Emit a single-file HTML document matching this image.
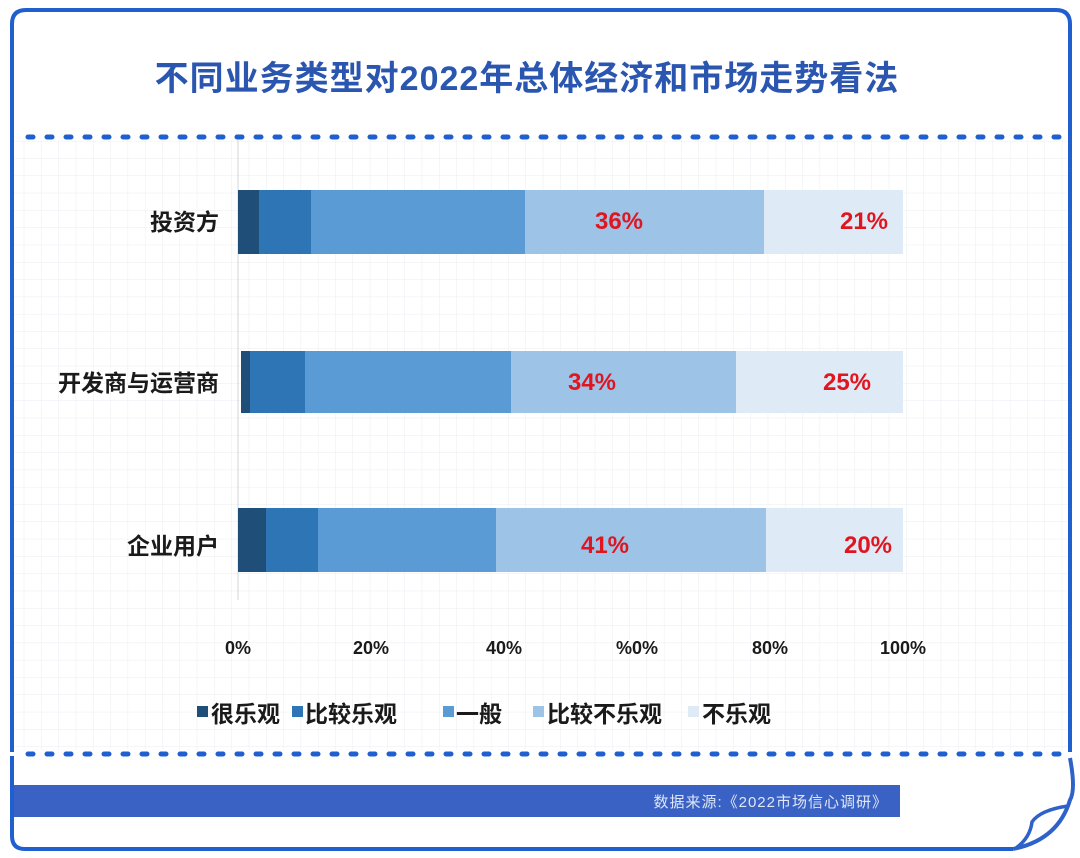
<!DOCTYPE html>
<html><head><meta charset="utf-8"><style>
body{margin:0;background:#fff;}
svg{display:block;font-family:"Liberation Sans","Noto Sans CJK SC",sans-serif;}
</style></head><body>
<svg width="1080" height="858" viewBox="0 0 1080 858" xmlns="http://www.w3.org/2000/svg">
<defs>
<pattern id="g" x="7" y="3" width="17.3" height="17.3" patternUnits="userSpaceOnUse">
<path d="M17.3 0V17.3M0 17.3H17.3" stroke="#e9edf2" stroke-width="1" fill="none"/>
</pattern>
</defs>
<rect x="14" y="140" width="1056" height="610" fill="url(#g)"/>
<path d="M12 752 V24 Q12 10 26 10 H1056 Q1070 10 1070 24 V752" fill="none" stroke="#1f5fcf" stroke-width="4"/>
<path d="M12 756 V836 Q12 849 25 849 H1013" fill="none" stroke="#1f5fcf" stroke-width="4"/>
<path d="M1070 758 Q1076 790 1070 800 Q1058 840 1013 849" fill="none" stroke="#2f62c9" stroke-width="4"/>
<path d="M1068 806 Q1040 810 1032 822 Q1030 838 1016 848" fill="none" stroke="#2f62c9" stroke-width="3.5"/>
<line x1="28" y1="137" x2="1068" y2="137" stroke="#1f5fcf" stroke-width="5" stroke-linecap="round" stroke-dasharray="5 14"/>
<line x1="28" y1="754" x2="1060" y2="754" stroke="#1f5fcf" stroke-width="5" stroke-linecap="round" stroke-dasharray="5 14"/>
<text x="527" y="90" text-anchor="middle" font-size="34" font-weight="bold" fill="#2a56b0" letter-spacing="1">不同业务类型对2022年总体经济和市场走势看法</text>
<line x1="238" y1="140" x2="238" y2="600" stroke="#d0d4da" stroke-width="1"/>
<g>
<rect x="238" y="190" width="21" height="64" fill="#1f4e79"/>
<rect x="259" y="190" width="52" height="64" fill="#2e75b6"/>
<rect x="311" y="190" width="214" height="64" fill="#5b9bd5"/>
<rect x="525" y="190" width="239" height="64" fill="#9dc3e6"/>
<rect x="764" y="190" width="139" height="64" fill="#deebf7"/>
<rect x="241" y="351" width="9" height="62" fill="#1f4e79"/>
<rect x="250" y="351" width="55" height="62" fill="#2e75b6"/>
<rect x="305" y="351" width="206" height="62" fill="#5b9bd5"/>
<rect x="511" y="351" width="225" height="62" fill="#9dc3e6"/>
<rect x="736" y="351" width="167" height="62" fill="#deebf7"/>
<rect x="238" y="508" width="28" height="64" fill="#1f4e79"/>
<rect x="266" y="508" width="52" height="64" fill="#2e75b6"/>
<rect x="318" y="508" width="178" height="64" fill="#5b9bd5"/>
<rect x="496" y="508" width="270" height="64" fill="#9dc3e6"/>
<rect x="766" y="508" width="137" height="64" fill="#deebf7"/>
</g>
<g font-size="24" font-weight="bold" fill="#e0151f" text-anchor="middle">
<text x="619" y="229">36%</text><text x="864" y="229">21%</text>
<text x="592" y="390">34%</text><text x="847" y="390">25%</text>
<text x="605" y="553">41%</text><text x="868" y="553">20%</text>
</g>
<g font-size="23" font-weight="bold" fill="#1a1a1a" text-anchor="end">
<text x="219" y="230">投资方</text>
<text x="219" y="391">开发商与运营商</text>
<text x="219" y="554">企业用户</text>
</g>
<g font-size="18" font-weight="bold" fill="#1a1a1a" text-anchor="middle">
<text x="238" y="654">0%</text><text x="371" y="654">20%</text><text x="504" y="654">40%</text>
<text x="637" y="654">%0%</text><text x="770" y="654">80%</text><text x="903" y="654">100%</text>
</g>
<g font-size="23" font-weight="bold" fill="#1a1a1a">
<rect x="197" y="706" width="11" height="11" fill="#1f4e79"/><text x="211" y="722">很乐观</text>
<rect x="292" y="706" width="11" height="11" fill="#2e75b6"/><text x="305" y="722">比较乐观</text>
<rect x="443" y="706" width="11" height="11" fill="#5b9bd5"/><text x="456" y="722">一般</text>
<rect x="533" y="706" width="11" height="11" fill="#9dc3e6"/><text x="547" y="722">比较不乐观</text>
<rect x="688" y="706" width="11" height="11" fill="#deebf7"/><text x="702" y="722">不乐观</text>
</g>
<rect x="14" y="785" width="886" height="32" fill="#3a62c4"/>
<text x="888" y="807" text-anchor="end" font-size="15" fill="#dfe7f7" letter-spacing="1">数据来源:《2022市场信心调研》</text>
</svg>
</body></html>
